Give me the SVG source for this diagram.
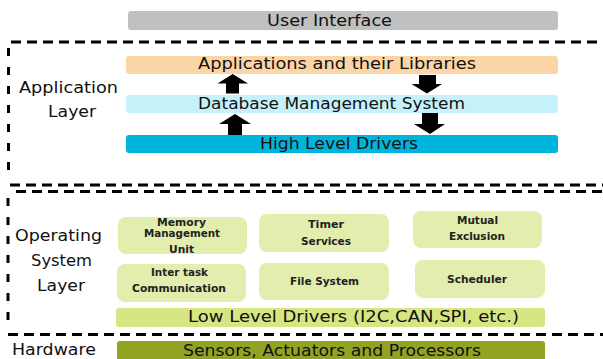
<svg xmlns="http://www.w3.org/2000/svg" width="603" height="359" viewBox="0 0 603 359">
  <style>
    .bar { stroke: none; }
    .big { font-family: "DejaVu Sans", "Liberation Sans", sans-serif; font-size: 15px; fill: #111; }
    .side { font-family: "DejaVu Sans", "Liberation Sans", sans-serif; font-size: 15px; fill: #111; }
    .small { font-family: "DejaVu Sans", "Liberation Sans", sans-serif; font-size: 10px; font-weight: bold; fill: #222; }
    .dash { stroke: #000; stroke-width: 3; stroke-dasharray: 10 6; fill: none; }
    .vdash { stroke: #000; stroke-width: 3; stroke-dasharray: 8 11; fill: none; }
    .os { fill: #E3EDAD; }
    .arrow { fill: #000; }
  </style>

  <!-- layer boundaries -->
  <g id="boundaries">
    <line class="dash" x1="11" y1="42" x2="603" y2="42"/>
    <line class="vdash" x1="8.5" y1="48" x2="8.5" y2="178"/>
    <line class="dash" x1="10" y1="185" x2="603" y2="185"/>
    <line class="dash" x1="16" y1="191.5" x2="603" y2="191.5"/>
    <line class="vdash" x1="8" y1="198" x2="8" y2="328"/>
    <line class="dash" x1="8" y1="334.5" x2="603" y2="334.5"/>
  </g>

  <!-- side labels -->
  <g id="labels">
    <text class="side" x="68.5" y="93" text-anchor="middle" textLength="99" lengthAdjust="spacingAndGlyphs">Application</text>
    <text class="side" x="72" y="117" text-anchor="middle" textLength="48" lengthAdjust="spacingAndGlyphs">Layer</text>
    <text class="side" x="58.5" y="241" text-anchor="middle" textLength="87" lengthAdjust="spacingAndGlyphs">Operating</text>
    <text class="side" x="61.5" y="266" text-anchor="middle" textLength="61" lengthAdjust="spacingAndGlyphs">System</text>
    <text class="side" x="61" y="291" text-anchor="middle" textLength="48" lengthAdjust="spacingAndGlyphs">Layer</text>
    <text class="side" x="54" y="355" text-anchor="middle" textLength="84" lengthAdjust="spacingAndGlyphs">Hardware</text>
  </g>

  <g id="user-interface">
    <rect class="bar" x="128" y="11" width="430" height="19" rx="3" fill="#C0C0C0"/>
    <text class="big" x="329.5" y="25.5" text-anchor="middle" textLength="125" lengthAdjust="spacingAndGlyphs">User Interface</text>
  </g>

  <g id="applications">
    <rect class="bar" x="126" y="56" width="432" height="18" rx="3" fill="#FBD5A5"/>
    <text class="big" x="337" y="69" text-anchor="middle" textLength="278" lengthAdjust="spacingAndGlyphs">Applications and their Libraries</text>
  </g>

  <g id="dbms">
    <rect class="bar" x="126" y="95" width="432" height="18" rx="3" fill="#C6F1FB"/>
    <text class="big" x="331.5" y="109" text-anchor="middle" textLength="267" lengthAdjust="spacingAndGlyphs">Database Management System</text>
  </g>

  <g id="high-level-drivers">
    <rect class="bar" x="126" y="135" width="432" height="18" rx="3" fill="#00B5DD"/>
    <text class="big" x="339" y="149" text-anchor="middle" textLength="158" lengthAdjust="spacingAndGlyphs">High Level Drivers</text>
  </g>

  <!-- block arrows between application layers -->
  <g id="connectors">
    <polygon class="arrow" points="232.7,74 248,83.5 239,83.5 239,93.5 226,93.5 226,83.5 217.5,83.5"/>
    <polygon class="arrow" points="419,75 436,75 436,84 442,84 427,93.5 411.5,84 419,84"/>
    <polygon class="arrow" points="235,114 251,124 242,124 242,135 228,135 228,124 219,124"/>
    <polygon class="arrow" points="422,113 438,113 438,124 445,124 430,134 414,124 422,124"/>
  </g>

  <g id="memory-management-unit">
    <rect class="os" x="118" y="217" width="129" height="37" rx="8"/>
    <text class="small" x="181.5" y="225.5" text-anchor="middle" textLength="49" lengthAdjust="spacingAndGlyphs">Memory</text>
    <text class="small" x="182" y="236.5" text-anchor="middle" textLength="76" lengthAdjust="spacingAndGlyphs">Management</text>
    <text class="small" x="181.5" y="252.5" text-anchor="middle" textLength="25" lengthAdjust="spacingAndGlyphs">Unit</text>
  </g>

  <g id="timer-services">
    <rect class="os" x="259" y="214" width="130" height="38" rx="8"/>
    <text class="small" x="326" y="227.5" text-anchor="middle" textLength="36" lengthAdjust="spacingAndGlyphs">Timer</text>
    <text class="small" x="326" y="244.5" text-anchor="middle" textLength="50" lengthAdjust="spacingAndGlyphs">Services</text>
  </g>

  <g id="mutual-exclusion">
    <rect class="os" x="413" y="211" width="129" height="37" rx="8"/>
    <text class="small" x="477.5" y="223.5" text-anchor="middle" textLength="41" lengthAdjust="spacingAndGlyphs">Mutual</text>
    <text class="small" x="477" y="239.5" text-anchor="middle" textLength="56" lengthAdjust="spacingAndGlyphs">Exclusion</text>
  </g>

  <g id="inter-task-communication">
    <rect class="os" x="117" y="264" width="129" height="38" rx="8"/>
    <text class="small" x="179.5" y="275.5" text-anchor="middle" textLength="57" lengthAdjust="spacingAndGlyphs">Inter task</text>
    <text class="small" x="179" y="291.5" text-anchor="middle" textLength="94" lengthAdjust="spacingAndGlyphs">Communication</text>
  </g>

  <g id="file-system">
    <rect class="os" x="259" y="263" width="130" height="37" rx="8"/>
    <text class="small" x="324.5" y="284.5" text-anchor="middle" textLength="69" lengthAdjust="spacingAndGlyphs">File System</text>
  </g>

  <g id="scheduler">
    <rect class="os" x="415" y="260" width="130" height="38" rx="8"/>
    <text class="small" x="477" y="282.5" text-anchor="middle" textLength="60" lengthAdjust="spacingAndGlyphs">Scheduler</text>
  </g>

  <g id="low-level-drivers">
    <rect class="bar" x="116" y="308" width="429" height="19" rx="3" fill="#D7E683"/>
    <text class="big" x="353.5" y="322" text-anchor="middle" textLength="331" lengthAdjust="spacingAndGlyphs">Low Level Drivers (I2C,CAN,SPI, etc.)</text>
  </g>

  <g id="hardware">
    <rect class="bar" x="117" y="341" width="428" height="22" rx="3" fill="#92A323"/>
    <text class="big" x="332" y="356" text-anchor="middle" textLength="298" lengthAdjust="spacingAndGlyphs">Sensors, Actuators and Processors</text>
  </g>
</svg>
